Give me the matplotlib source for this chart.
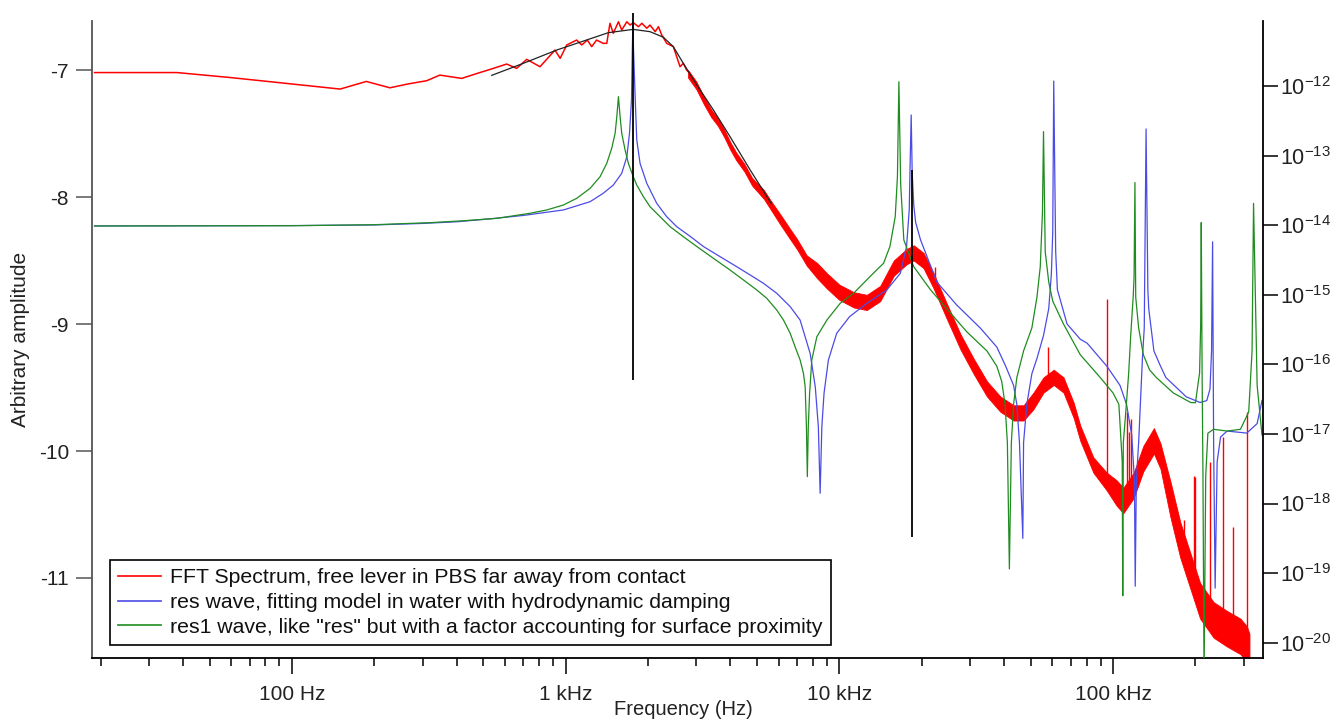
import numpy as np
import matplotlib
matplotlib.use("Agg")
import matplotlib.pyplot as plt
from matplotlib.lines import Line2D
from matplotlib.ticker import (FixedLocator, FixedFormatter, LogLocator,
                               NullFormatter, NullLocator)

plt.rcParams['font.family'] = ['Liberation Sans', 'DejaVu Sans']

# ---------------- data ----------------
# FFT spectrum, thin (low-frequency) part
red_f = [19, 38, 60, 100, 150, 187, 228, 265, 311, 347, 417, 486, 530, 609, 662,
         721, 806, 914, 955, 1009, 1097, 1145, 1200, 1245, 1297, 1371, 1413, 1452,
         1493, 1559, 1603, 1673, 1720, 1766, 1845, 1898, 1979, 2033, 2124, 2183,
         2244, 2340, 2474, 2618, 2690, 2767, 2850]
red_v = [-7.02, -7.02, -7.06, -7.11, -7.15, -7.09, -7.14, -7.11, -7.084, -7.04,
         -7.066, -7.02, -6.995, -6.953, -6.987, -6.916, -6.974, -6.843, -6.908,
         -6.803, -6.764, -6.803, -6.764, -6.816, -6.764, -6.79, -6.79, -6.632,
         -6.711, -6.62, -6.685, -6.62, -6.646, -6.627, -6.659, -6.632, -6.671,
         -6.646, -6.698, -6.659, -6.724, -6.79, -6.816, -6.974, -6.947, -7.0, -7.03]

# FFT spectrum, dense (noisy band) part: lower and upper envelope
band_f = [2800, 3000, 3200, 3400, 3600, 3800, 4000, 4200, 4500, 4800, 5300, 5600,
          6100, 6600, 7000, 7600, 8300, 9000, 10000, 11300, 12600, 14100, 15800,
          17600, 18700, 20300, 22100, 24700, 27700, 30900, 34600, 38700, 43300,
          47100, 51200, 55700, 60700, 65900, 71800, 75900, 84700, 94800, 103000,
          109000, 119000, 129000, 141000, 149000, 162000, 176000, 192000, 208000,
          233000, 261000, 292000, 308000, 315000]
band_hi = [-7.00, -7.09, -7.21, -7.31, -7.38, -7.47, -7.57, -7.65, -7.74, -7.85,
           -7.945, -8.025, -8.14, -8.25, -8.33, -8.46, -8.52, -8.60, -8.69, -8.75,
           -8.77, -8.70, -8.50, -8.41, -8.38, -8.44, -8.60, -8.84, -9.08, -9.27,
           -9.45, -9.57, -9.64, -9.64, -9.54, -9.42, -9.36, -9.42, -9.62, -9.80,
           -10.05, -10.17, -10.23, -10.29, -10.17, -9.96, -9.82, -9.94, -10.24,
           -10.56, -10.81, -11.04, -11.19, -11.26, -11.32, -11.38, -11.44]
band_lo = [-7.06, -7.15, -7.27, -7.37, -7.44, -7.53, -7.63, -7.71, -7.80, -7.91,
           -8.015, -8.095, -8.22, -8.33, -8.41, -8.54, -8.64, -8.72, -8.81, -8.87,
           -8.89, -8.82, -8.62, -8.53, -8.50, -8.56, -8.72, -8.96, -9.20, -9.39,
           -9.57, -9.69, -9.76, -9.76, -9.67, -9.54, -9.48, -9.54, -9.74, -9.92,
           -10.17, -10.31, -10.43, -10.49, -10.37, -10.16, -10.02, -10.14, -10.52,
           -10.84, -11.09, -11.32, -11.47, -11.54, -11.60, -11.66, -11.70]

# narrow spikes in the FFT spectrum
spike_f = [22400, 57800, 95300, 112000, 114000, 116000, 181000, 197000, 200000,
           226000, 253000, 275000, 308000]
spike_lo = [-8.66, -9.45, -10.2, -10.35, -10.3, -10.3, -10.7, -10.9, -10.95,
            -11.2, -11.3, -11.35, -11.45]
spike_hi = [-8.55, -9.18, -8.80, -9.69, -9.85, -9.75, -10.54, -10.2, -10.205,
            -10.085, -9.89, -10.6, -9.69]

# res wave (blue)
blue_f = [19, 100, 200, 300, 400, 529, 701, 981, 1228, 1371, 1493, 1603, 1673,
          1711, 1740, 1752, 1760, 1770, 1796, 1819, 1870, 1979, 2152, 2340, 2547,
          2860, 3187, 3668, 4218, 4722, 5285, 5905, 6611, 7188, 7820, 8165, 8380,
          8507, 8630, 8790, 9120, 9780, 10900, 12600, 14900, 16700, 17600, 18000,
          18150, 18300, 18450, 18700, 19000, 19800, 22700, 26800, 32700, 37600,
          40500, 43300, 44500, 45500, 46800, 47100, 48400, 50500, 52700, 55700,
          58200, 59500, 60200, 60700, 61700, 62600, 67900, 75900, 80400, 94800,
          106000, 112000, 117000, 119700, 120500, 121600, 124000, 128000, 130000,
          132000, 134000, 135000, 141000, 149000, 156000, 185000, 208000, 220000,
          226000, 229000, 231000, 233000, 236000, 240000, 247000, 261000, 308000,
          336000, 350000]
blue_v = [-8.228, -8.225, -8.220, -8.208, -8.195, -8.172, -8.145, -8.102, -8.037,
          -7.971, -7.906, -7.813, -7.683, -7.499, -7.236, -6.843, -6.64, -6.843,
          -7.236, -7.551, -7.735, -7.892, -8.05, -8.155, -8.234, -8.312, -8.39,
          -8.47, -8.549, -8.614, -8.68, -8.758, -8.863, -8.969, -9.231, -9.494,
          -9.809, -10.333, -9.809, -9.546, -9.283, -9.073, -8.942, -8.837, -8.732,
          -8.601, -8.39, -8.102, -7.709, -7.354, -7.8, -8.066, -8.2, -8.338,
          -8.669, -8.849, -9.031, -9.181, -9.331, -9.483, -9.633, -9.934, -10.688,
          -9.934, -9.633, -9.392, -9.272, -9.09, -8.88, -8.608, -8.277, -7.087,
          -8.428, -8.729, -9.0, -9.12, -9.151, -9.331, -9.483, -9.633, -9.874,
          -10.236, -11.065, -10.236, -9.934, -9.272, -9.031, -7.464, -8.729,
          -8.88, -9.212, -9.331, -9.422, -9.573, -9.618, -9.603, -9.512, -9.212,
          -8.353, -9.934, -11.08, -10.086, -9.89, -9.843, -9.859, -9.784, -9.603]

# res1 wave (green)
green_f = [19, 100, 200, 319, 423, 560, 741, 853, 981, 1098, 1228, 1336, 1413,
           1473, 1516, 1538, 1559, 1581, 1603, 1649, 1695, 1766, 1819, 1923, 2033,
           2213, 2408, 2690, 3015, 3467, 3987, 4467, 4993, 5431, 5905, 6250, 6611,
           6890, 7188, 7391, 7500, 7580, 7638, 7700, 7786, 7930, 8275, 9003, 10070,
           11270, 13300, 14500, 15300, 16000, 16300, 16500, 16750, 17200, 18700,
           21500, 24700, 29200, 34600, 37600, 39200, 40300, 41100, 41800, 42500,
           43300, 44500, 47100, 50500, 52700, 54200, 55200, 55700, 56500, 58200,
           60200, 65900, 75900, 89800, 100000, 105000, 106000, 108000, 108500,
           109000, 111000, 114000, 116000, 118400, 119300, 120200, 121000, 124000,
           129000, 136000, 144000, 166000, 192000, 200000, 205000, 207000, 209000,
           210000, 211500, 213000, 215000, 218000, 222000, 233000, 261000, 292000,
           313000, 322000, 326000, 336000, 350000]
green_v = [-8.228, -8.226, -8.218, -8.202, -8.187, -8.168, -8.128, -8.102, -8.063,
           -8.01, -7.932, -7.84, -7.735, -7.617, -7.499, -7.367, -7.21, -7.367,
           -7.499, -7.63, -7.735, -7.84, -7.906, -7.997, -8.076, -8.155, -8.234,
           -8.312, -8.39, -8.483, -8.575, -8.654, -8.732, -8.798, -8.89, -8.969,
           -9.073, -9.179, -9.283, -9.388, -9.494, -9.809, -10.202, -9.809, -9.546,
           -9.283, -9.1, -8.969, -8.837, -8.758, -8.601, -8.522, -8.39, -8.155,
           -7.84, -7.092, -7.9, -8.338, -8.549, -8.729, -8.88, -9.061, -9.212,
           -9.332, -9.453, -9.633, -9.934, -10.929, -9.934, -9.633, -9.422,
           -9.212, -9.031, -8.79, -8.549, -8.126, -7.485, -8.428, -8.669, -8.82,
           -9.0, -9.242, -9.422, -9.543, -9.633, -9.784, -10.085, -11.14, -9.934,
           -9.723, -9.392, -9.09, -8.79, -8.638, -7.886, -8.79, -9.031, -9.242,
           -9.362, -9.422, -9.543, -9.618, -9.62, -9.45, -9.39, -9.0, -8.201,
           -9.4, -10.176, -11.8, -10.2, -9.86, -9.829, -9.843, -9.829, -9.693,
           -9.212, -8.05, -9.483, -9.874]

# fit curve (black) and marker lines
fit_f = [537, 701, 927, 1432, 1766, 2033, 2276, 2474, 2690, 3015, 3467, 3987,
         4722, 5588, 5660]
fit_v = [-7.042, -6.947, -6.843, -6.706, -6.68, -6.698, -6.742, -6.816, -6.947,
         -7.118, -7.315, -7.525, -7.787, -8.037, -8.055]
mark_f = [1766, 18500]
mark_top = [-6.55, -7.787]
mark_bottom = [-9.441, -10.677]

xtick_vals = [100, 1000, 10000, 100000]
xtick_labels = ["100 Hz", "1 kHz", "10 kHz", "100 kHz"]
ytick_vals = [-11, -10, -9, -8, -7]
rtick_exp = [-20, -19, -18, -17, -16, -15, -14, -13, -12]

legend_labels = ["FFT Spectrum, free lever in PBS far away from contact",
                 "res wave, fitting model in water with hydrodynamic damping",
                 "res1 wave, like \"res\" but with a factor accounting for surface proximity"]

RED = "#ff0000"
BLUE = "#4b4be6"
GREEN = "#1f8c1f"

# ---------------- figure ----------------
fig = plt.figure(figsize=(13.38, 7.25), dpi=100)
ax = fig.add_axes([92 / 1338, 1 - 658 / 725, (1263 - 92) / 1338, (658 - 21) / 725])
ax.set_xscale("log")
ax.set_xlim(18.6, 353000)
ax.set_ylim(-11.63, -6.614)

ax.plot(red_f, red_v, color=RED, lw=1.1, zorder=2)
ax.fill_between(band_f, band_lo, band_hi, color=RED, lw=0.6, zorder=2)
ax.vlines(spike_f, spike_lo, spike_hi, color=RED, lw=1.0, zorder=2)
ax.plot(blue_f, blue_v, color=BLUE, lw=0.9, zorder=3)
ax.plot(green_f, green_v, color=GREEN, lw=0.9, zorder=3)
ax.plot(fit_f, fit_v, color="#222222", lw=0.9, zorder=4)
ax.vlines(mark_f, mark_bottom, mark_top, color="black", lw=1.3, zorder=5,
          clip_on=False)

# axes styling
for s in ("top", "right"):
    ax.spines[s].set_visible(False)
ax.spines["left"].set_color("#555555")
ax.spines["left"].set_linewidth(1.3)
ax.spines["bottom"].set_color("black")
ax.spines["bottom"].set_linewidth(1.3)

ax.xaxis.set_major_locator(FixedLocator(xtick_vals))
ax.xaxis.set_major_formatter(FixedFormatter(xtick_labels))
ax.xaxis.set_minor_locator(LogLocator(base=10, subs=np.arange(2, 10), numticks=20))
ax.xaxis.set_minor_formatter(NullFormatter())
ax.yaxis.set_major_locator(FixedLocator(ytick_vals))
ax.yaxis.set_major_formatter(FixedFormatter([str(v) for v in ytick_vals]))
ax.yaxis.set_minor_locator(NullLocator())

ax.tick_params(axis="x", which="major", length=11.5, width=1.1, pad=8,
               labelsize=15, labelcolor="#222222", color="black")
ax.tick_params(axis="x", which="minor", length=5.5, width=1.1, color="black")
ax.tick_params(axis="y", which="major", length=11.5, width=1.1, pad=5,
               labelsize=15, labelcolor="#222222", color="#555555")

ax.set_xlabel("Frequency (Hz)", fontsize=14.5, color="#222222")
ax.xaxis.set_label_coords(0.505, -0.066)
ax.set_ylabel("Arbitrary amplitude", fontsize=15, color="#222222")
ax.yaxis.set_label_coords(-0.053, 0.5)

# right log axis
ax2 = ax.twinx()
ax2.set_yscale("log")
ax2.set_ylim(10 ** -20.22, 10 ** -11.066)
for s in ("top", "left", "bottom"):
    ax2.spines[s].set_visible(False)
ax2.spines["right"].set_color("black")
ax2.spines["right"].set_linewidth(1.3)
ax2.yaxis.set_major_locator(FixedLocator([10.0 ** e for e in rtick_exp]))
ax2.yaxis.set_major_formatter(FixedFormatter(
    [r"$\mathregular{10^{%d}}$" % e for e in rtick_exp]))
ax2.yaxis.set_minor_locator(NullLocator())
ax2.tick_params(axis="y", which="major", length=11, width=1.1, pad=1,
                labelsize=15.5, labelcolor="#222222", color="black")

# legend
handles = [Line2D([], [], color=RED, lw=1.2),
           Line2D([], [], color=BLUE, lw=1.2),
           Line2D([], [], color=GREEN, lw=1.2)]
leg = ax.legend(handles, legend_labels, loc="lower left",
                bbox_to_anchor=(0.0154, 0.0204), borderaxespad=0,
                fontsize=15.3, frameon=True, fancybox=False, framealpha=1,
                edgecolor="black", handlelength=2.0, handletextpad=0.45,
                labelspacing=0.27, borderpad=0.38)
leg.get_frame().set_linewidth(1.2)
for t in leg.get_texts():
    t.set_color("#111111")
leg.set_zorder(10)

fig.savefig("out.png", dpi=100)
